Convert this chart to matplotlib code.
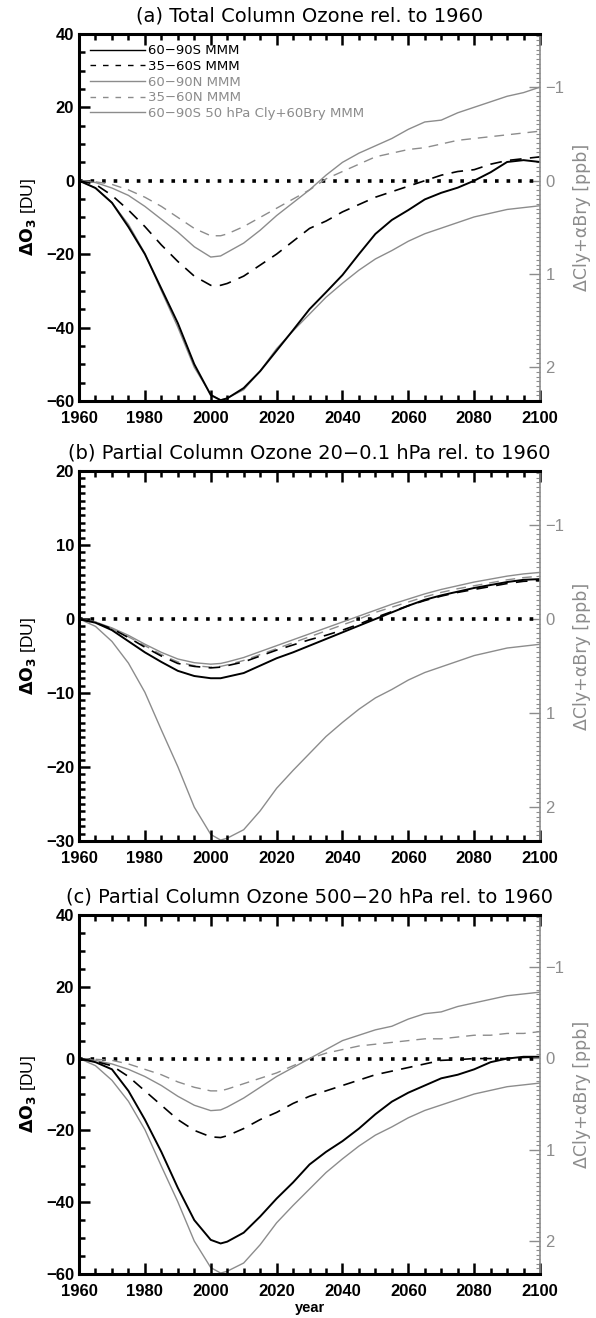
import numpy as np
import matplotlib
matplotlib.use("Agg")
import matplotlib.pyplot as plt
from matplotlib.ticker import MultipleLocator

plt.rcParams['font.family'] = ['Liberation Sans', 'DejaVu Sans']

GRAY = '#8c8c8c'

years = [1960, 1965, 1970, 1975, 1980, 1985, 1990, 1995, 2000, 2003, 2005,
         2010, 2015, 2020, 2025, 2030, 2035, 2040, 2045, 2050, 2055, 2060,
         2065, 2070, 2075, 2080, 2085, 2090, 2095, 2100]

# 60-90S 50 hPa Cly+60Bry multi-model mean [ppb], same curve in all panels
cly_bry = [0.0, 0.08, 0.24, 0.47, 0.78, 1.18, 1.57, 2.0, 2.29, 2.35, 2.33,
           2.24, 2.04, 1.80, 1.61, 1.43, 1.25, 1.10, 0.96, 0.84, 0.75, 0.65,
           0.57, 0.51, 0.45, 0.39, 0.35, 0.31, 0.29, 0.27]

# (a) total column ozone [DU]
tot_6090s = [0, -2, -6, -12.6, -20, -29.4, -38.8, -50, -58.4, -59.8, -59.3,
             -56.5, -51.9, -46.3, -40.7, -35, -30.4, -25.7, -20, -14.5, -10.7, -8,
             -5.1, -3.3, -1.9, 0, 2.3, 5.1, 5.6, 5.1]
tot_3560s = [0, -1, -4, -8, -12.5, -17.5, -22, -26, -28.5, -28.5, -28,
             -26, -23, -20, -16.5, -13, -11, -8.5, -6.5, -4.5, -3, -1.5,
             0, 1.5, 2.5, 3, 4.5, 5.5, 6, 6.5]
tot_6090n = [0, -0.5, -2, -4, -7, -10.5, -14, -18, -20.8, -20.5, -19.5,
             -17, -13.5, -9.5, -6, -2.5, 1.5, 5, 7.5, 9.5, 11.5, 14,
             16, 16.5, 18.5, 20, 21.5, 23, 24, 25.5]
tot_3560n = [0, -0.3, -1, -2.5, -4.5, -7, -10, -13, -15, -15, -14.5,
             -12.5, -10, -7.5, -5, -2.5, 0.5, 2.5, 4.5, 6.5, 7.5, 8.5,
             9, 10, 11, 11.5, 12, 12.5, 13, 13.5]

# (b) partial column 20-0.1 hPa [DU]
upp_6090s = [0, -0.5, -1.5, -3, -4.5, -5.8, -7, -7.7, -8, -8, -7.8,
             -7.3, -6.3, -5.3, -4.5, -3.6, -2.7, -1.8, -0.9, 0, 0.9, 1.8,
             2.6, 3.2, 3.7, 4.2, 4.6, 5.0, 5.3, 5.4]
upp_3560s = [0, -0.5, -1.3, -2.5, -3.8, -5, -6, -6.4, -6.6, -6.5, -6.3,
             -5.8, -5, -4.2, -3.5, -2.8, -2.2, -1.5, -0.7, 0.2, 1.0, 1.8,
             2.5, 3.1, 3.6, 4.0, 4.4, 4.8, 5.1, 5.2]
upp_6090n = [0, -0.4, -1.2, -2.2, -3.4, -4.5, -5.4, -5.9, -6.1, -6.0, -5.8,
             -5.2, -4.4, -3.6, -2.8, -2.0, -1.2, -0.4, 0.4, 1.2, 2.0, 2.7,
             3.4, 4.0, 4.5, 5.0, 5.4, 5.8, 6.1, 6.3]
upp_3560n = [0, -0.4, -1.3, -2.4, -3.6, -4.8, -5.8, -6.3, -6.5, -6.4, -6.2,
             -5.6, -4.8, -4.0, -3.2, -2.4, -1.6, -0.8, 0.0, 0.9, 1.6, 2.3,
             3.0, 3.6, 4.1, 4.5, 4.9, 5.3, 5.6, 5.8]

# (c) partial column 500-20 hPa [DU]
low_6090s = [0, -1, -3, -9, -17, -26, -36, -45, -50.5, -51.5, -51,
             -48.5, -44, -39, -34.5, -29.5, -26, -23, -19.5, -15.5, -12, -9.5,
             -7.5, -5.5, -4.5, -3, -1, 0, 0.5, 0.5]
low_3560s = [0, -0.8, -2, -5, -9, -13, -17, -20, -21.8, -22, -21.5,
             -19.5, -17, -15, -12.5, -10.5, -9, -7.5, -6, -4.5, -3.5, -2.5,
             -1.5, -0.5, -0.3, 0, 0, 0, 0.3, 0.5]
low_6090n = [0, -0.5, -1.5, -3, -5, -7.5, -10.5, -13, -14.5, -14.3, -13.5,
             -11, -8, -5, -2.5, 0, 2.5, 5, 6.5, 8, 9, 11,
             12.5, 13, 14.5, 15.5, 16.5, 17.5, 18, 18.5]
low_3560n = [0, -0.2, -0.5, -1.5, -3, -4.5, -6.5, -8, -9, -9, -8.5,
             -7, -5.5, -4, -2, 0, 1.5, 2.5, 3.5, 4, 4.5, 5,
             5.5, 5.5, 6, 6.5, 6.5, 7, 7, 7.5]

titles = ['(a) Total Column Ozone rel. to 1960',
          '(b) Partial Column Ozone 20\u22120.1 hPa rel. to 1960',
          '(c) Partial Column Ozone 500\u221220 hPa rel. to 1960']
legend_labels = ['60\u221290S MMM', '35\u221260S MMM', '60\u221290N MMM',
                 '35\u221260N MMM', '60\u221290S 50 hPa Cly+60Bry MMM']


def panel(fig, rect, title, s_solid, s_dash, n_solid, n_dash, ylim, major, minor,
          legend=False, xlabel=False):
    ax = fig.add_axes(rect)
    ax2 = ax.twinx()
    ax.set_zorder(ax2.get_zorder() + 1)
    ax.patch.set_visible(False)

    # Cly+Bry on right axis, increasing downwards
    ax2.plot(years, cly_bry, color=GRAY, lw=1.0)
    ax2.set_ylim(2.36, -1.57)
    ax2.yaxis.set_major_locator(MultipleLocator(1))
    ax2.yaxis.set_minor_locator(MultipleLocator(0.05))
    ax2.tick_params(axis='y', which='both', direction='in', colors=GRAY, labelsize=12, pad=4)
    ax2.tick_params(axis='y', which='major', length=8, width=1)
    ax2.tick_params(axis='y', which='minor', length=3, width=0.8)
    ax2.set_ylabel('\u0394Cly+\u03b1Bry [ppb]', color=GRAY, fontsize=12.5,
                   family='DejaVu Sans', labelpad=6)
    for sp in ax2.spines.values():
        sp.set_visible(False)

    ax.plot([1960, 2100], [0, 0], color='black', lw=2.6, ls=(0, (1, 2.2)))
    ax.plot(years, n_dash, color=GRAY, lw=1.0, ls=(0, (7, 5)))
    ax.plot(years, n_solid, color=GRAY, lw=1.0)
    ax.plot(years, s_dash, color='black', lw=1.2, ls=(0, (7, 5)))
    ax.plot(years, s_solid, color='black', lw=1.4)

    ax.set_xlim(1960, 2100)
    ax.set_ylim(*ylim)
    ax.xaxis.set_major_locator(MultipleLocator(20))
    ax.xaxis.set_minor_locator(MultipleLocator(5))
    ax.yaxis.set_major_locator(MultipleLocator(major))
    ax.yaxis.set_minor_locator(MultipleLocator(minor))
    ax.tick_params(which='both', direction='in', top=True, right=False,
                   labelsize=12, width=1.8)
    ax.tick_params(axis='x', pad=7)
    ax.tick_params(which='major', length=8)
    ax.tick_params(which='minor', length=4)
    for lab in ax.get_xticklabels() + ax.get_yticklabels():
        lab.set_fontweight('bold')
    for side in ['left', 'bottom', 'top']:
        ax.spines[side].set_linewidth(2.2)
    ax.spines['right'].set_color(GRAY)
    ax.spines['right'].set_linewidth(1.2)
    ax.spines['right'].set_linestyle((0, (1, 1)))

    ax.set_title(title, fontsize=14, family='DejaVu Sans', pad=9)
    ax.set_ylabel(r'$\mathbf{\Delta O_3}$ [DU]', fontsize=12.5, labelpad=6)
    if xlabel:
        ax.set_xlabel('year', fontsize=10.5, fontweight='bold', labelpad=2)

    if legend:
        handles = [
            plt.Line2D([], [], color='black', lw=1.0),
            plt.Line2D([], [], color='black', lw=1.0, ls=(0, (4, 5))),
            plt.Line2D([], [], color=GRAY, lw=1.0),
            plt.Line2D([], [], color=GRAY, lw=1.0, ls=(0, (4, 5))),
            plt.Line2D([], [], color=GRAY, lw=1.0),
        ]
        leg = ax.legend(handles, legend_labels, loc='upper left', frameon=False,
                        prop={'family': 'DejaVu Sans', 'size': 9.5},
                        handlelength=4.2, handletextpad=0.2,
                        labelspacing=0.2, borderaxespad=0.4,
                        bbox_to_anchor=(0.0, 1.0))
        for txt, col in zip(leg.get_texts(), ['black', 'black', GRAY, GRAY, GRAY]):
            txt.set_color(col)
    return ax


fig = plt.figure(figsize=(5.96, 13.18), dpi=100)

panel(fig, [0.1326, 0.6958, 0.7735, 0.2785], titles[0],
      tot_6090s, tot_3560s, tot_6090n, tot_3560n, (-60, 40), 20, 5, legend=True)
panel(fig, [0.1326, 0.3619, 0.7735, 0.2807], titles[1],
      upp_6090s, upp_3560s, upp_6090n, upp_3560n, (-30, 20), 10, 1)
panel(fig, [0.1326, 0.0334, 0.7735, 0.2724], titles[2],
      low_6090s, low_3560s, low_6090n, low_3560n, (-60, 40), 20, 5, xlabel=True)

fig.savefig('out.png', dpi=100)
